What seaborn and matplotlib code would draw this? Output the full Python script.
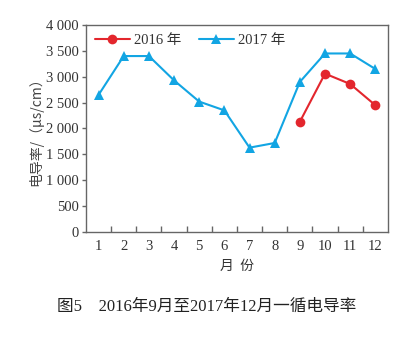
import matplotlib
matplotlib.use("Agg")
import matplotlib.pyplot as plt
import seaborn as sns
import pandas as pd

# Monthly conductivity readings (μs/cm)
months = list(range(1, 13))
values_2017 = [2650, 3400, 3400, 2930, 2520, 2350, 1630, 1720, 2900, 3450, 3450, 3150]
months_2016 = [9, 10, 11, 12]
values_2016 = [2130, 3060, 2860, 2450]
y_ticks = [0, 500, 1000, 1500, 2000, 2500, 3000, 3500, 4000]
y_tick_labels = ["0", "500", "1 000", "1 500", "2 000", "2 500", "3 000", "3 500", "4 000"]

sns.set_theme(style="white")
plt.rcParams["font.family"] = ["Liberation Serif", "Noto Sans CJK SC"]

df = pd.concat([
    pd.DataFrame({"月份": months_2016, "电导率": values_2016, "年份": "2016 年"}),
    pd.DataFrame({"月份": months, "电导率": values_2017, "年份": "2017 年"}),
])

red = "#e3262d"
blue = "#12a5e3"
text_c = "#333333"
frame_c = "#666666"

fig = plt.figure(figsize=(4.14, 3.37), dpi=100)
ax = fig.add_axes([0.2077, 0.3116, 0.7293, 0.6142])

sns.lineplot(data=df, x="月份", y="电导率", hue="年份", style="年份",
             palette={"2016 年": red, "2017 年": blue},
             markers={"2016 年": "o", "2017 年": "^"}, dashes=False,
             markersize=7, markeredgewidth=0, linewidth=1.5, ax=ax)

ax.set_xlim(0.5, 12.5)
ax.set_ylim(0, 4000)
ax.set_xticks(months)
ax.set_xticklabels([str(m) for m in months], fontsize=10.5, color=text_c)
ax.set_xticks([m + 0.5 for m in months[:-1]], minor=True)
ax.tick_params(axis="x", which="major", length=0, pad=6)
ax.tick_params(axis="x", which="minor", direction="in", length=4, width=1, color=frame_c, bottom=True)
ax.set_yticks(y_ticks)
ax.set_yticklabels(y_tick_labels, fontsize=10.5, color=text_c)
ax.tick_params(axis="y", direction="out", length=3, width=1, color=frame_c, left=True, pad=2)

for s in ax.spines.values():
    s.set_color(frame_c)
    s.set_linewidth(1.0)

ax.set_xlabel("月  份", fontsize=10, color=text_c, family=["Noto Sans CJK SC"], labelpad=4)
ax.set_ylabel("电导率/（μs/cm）", fontsize=10, color="#444444",
              family=["Noto Sans CJK SC", "DejaVu Sans"], labelpad=2)

leg = ax.legend(loc="upper left", ncol=2, frameon=False, fontsize=10.5,
                handlelength=2.4, columnspacing=1.2, handletextpad=0.3,
                borderaxespad=0.2, bbox_to_anchor=(0.0, 1.0))
for t in leg.get_texts():
    t.set_color(text_c)
    t.set_family(["Liberation Serif", "Noto Sans CJK SC"])

fig.text(0.5, 0.09, "图5　2016年9月至2017年12月一循电导率", ha="center", va="center",
         fontsize=12, color="#222222", family=["Liberation Serif", "Noto Sans CJK SC"])

fig.savefig("out.png", dpi=100)
